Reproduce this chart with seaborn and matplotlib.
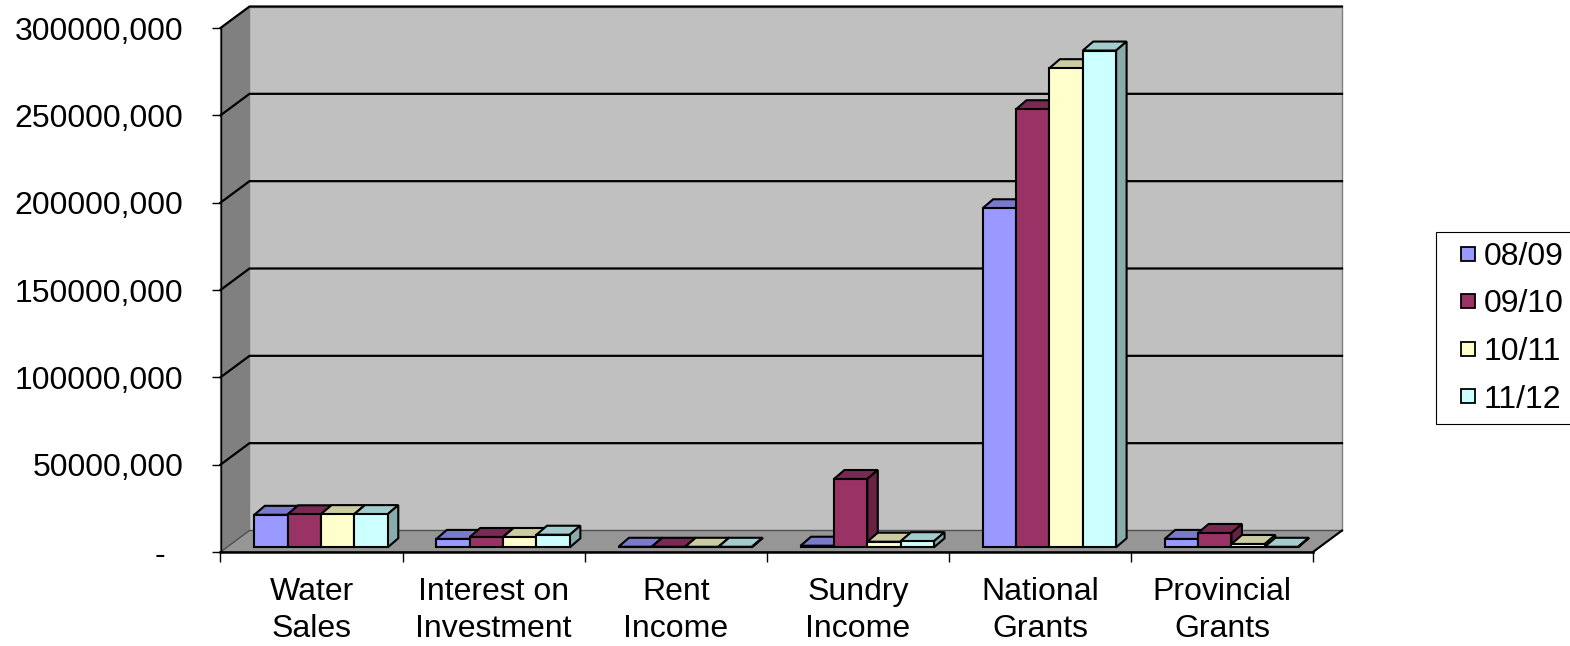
import matplotlib
matplotlib.use("Agg")
import numpy as np
import pandas as pd
import matplotlib.pyplot as plt
import seaborn as sns
from matplotlib.patches import Polygon, Rectangle
from matplotlib.lines import Line2D
from matplotlib.transforms import IdentityTransform, ScaledTranslation

# ---------------- data ----------------
categories = ["Water\nSales", "Interest on\nInvestment", "Rent\nIncome",
              "Sundry\nIncome", "National\nGrants", "Provincial\nGrants"]
years = ["08/09", "09/10", "10/11", "11/12"]
values_0809 = [18.6e6, 4.8e6, 0.3e6, 0.9e6, 194.1e6, 4.8e6]
values_0910 = [18.9e6, 5.9e6, 0.3e6, 39.1e6, 250.8e6, 8.2e6]
values_1011 = [19.0e6, 5.9e6, 0.3e6, 3.2e6, 274.3e6, 1.9e6]
values_1112 = [19.0e6, 7.2e6, 0.3e6, 3.5e6, 284.4e6, 0.3e6]
colors = ["#9999FF", "#993366", "#FFFFCC", "#CCFFFF"]
y_ticks = [0, 50e6, 100e6, 150e6, 200e6, 250e6, 300e6]
y_labels = ["-  ", "50000,000", "100000,000", "150000,000",
            "200000,000", "250000,000", "300000,000"]

df = pd.DataFrame({
    "category": categories * 4,
    "year": np.repeat(years, len(categories)),
    "value": values_0809 + values_0910 + values_1011 + values_1112,
})

plt.rcParams["font.family"] = ["Liberation Sans", "DejaVu Sans"]
FS = 23

W, H, DPI = 1570, 646, 100
fig = plt.figure(figsize=(W / DPI, H / DPI), dpi=DPI)
fig.patch.set_facecolor("white")

# front plane of the 3D box (pixel geometry)
X0, X1, YB, YT = 220.5, 1313.0, 552.0, 28.0
ax = fig.add_axes([X0 / W, (H - YB) / H, (X1 - X0) / W, (YB - YT) / H])
ax.patch.set_visible(False)

sns.barplot(data=df, x="category", y="value", hue="year", order=categories,
            hue_order=years, palette=colors, saturation=1, width=0.733,
            edgecolor="black", linewidth=1.5, legend=False, errorbar=None, ax=ax)
ax.set_xlim(-0.5, 5.5)
ax.set_ylim(0, 300e6)
ax.set_xlabel("")
ax.set_ylabel("")

bars = sorted([p for p in ax.patches if isinstance(p, Rectangle)], key=lambda p: p.get_x())

# depth vectors (pixels)
DX, DY = 29.0, 21.5          # full floor depth
SX, SY = 9.5, 4.7            # bar front face offset
BX, BY = 10.5, 9.0           # bar depth


def wall(x, y, d):
    p = ax.transData.transform((x, y))
    return (p[0] + d * DX, p[1] + d * DY)


def bp(x, y, d):
    p = ax.transData.transform((x, y))
    return (p[0] + SX + d * BX, p[1] + SY + d * BY)


xmin, xmax = -0.5, 5.5
ytop = 300e6
ident = IdentityTransform()

# left wall
ax.add_patch(Polygon([wall(xmin, 0, 0), wall(xmin, ytop, 0), wall(xmin, ytop, 1), wall(xmin, 0, 1)],
                     closed=True, transform=ident, facecolor="#808080", edgecolor="#6e6e6e",
                     lw=0.8, zorder=0.5, clip_on=False))
# back wall
ax.add_patch(Polygon([wall(xmin, 0, 1), wall(xmax, 0, 1), wall(xmax, ytop, 1), wall(xmin, ytop, 1)],
                     closed=True, transform=ident, facecolor="#C0C0C0", edgecolor="#808080",
                     lw=1.0, zorder=0.5, clip_on=False))
# floor
ax.add_patch(Polygon([wall(xmin, 0, 0), wall(xmax, 0, 0), wall(xmax, 0, 1), wall(xmin, 0, 1)],
                     closed=True, transform=ident, facecolor="#969696", edgecolor="#505050",
                     lw=1.0, zorder=0.7, clip_on=False))
# gridlines on walls
for t in y_ticks[1:]:
    pts = [wall(xmin, t, 0), wall(xmin, t, 1), wall(xmax, t, 1)]
    ax.add_line(Line2D([p[0] for p in pts], [p[1] for p in pts], transform=ident,
                       color="black", lw=1.6, zorder=0.8, clip_on=False))
# floor right edge
pr = [wall(xmax, 0, 0), wall(xmax, 0, 1)]
ax.add_line(Line2D([p[0] for p in pr], [p[1] for p in pr], transform=ident,
                   color="black", lw=1.5, zorder=0.9, clip_on=False))

# 3D bars
shift = ax.transData + ScaledTranslation(SX / DPI, SY / DPI, fig.dpi_scale_trans)
for k, bar in enumerate(bars):
    x, w, h = bar.get_x(), bar.get_width(), bar.get_height()
    fc = np.array(bar.get_facecolor()[:3])
    z = 3 + k * 0.01
    bar.set_transform(shift)
    bar.set_zorder(z + 0.005)
    bar.set_clip_on(False)
    bar.set_joinstyle("miter")
    top = [bp(x, h, 0), bp(x + w, h, 0), bp(x + w, h, 1), bp(x, h, 1)]
    side = [bp(x + w, 0, 0), bp(x + w, h, 0), bp(x + w, h, 1), bp(x + w, 0, 1)]
    ax.add_patch(Polygon(top, closed=True, transform=ident, facecolor=fc * 0.8,
                         edgecolor="black", lw=1.5, zorder=z, clip_on=False, joinstyle="miter"))
    ax.add_patch(Polygon(side, closed=True, transform=ident, facecolor=fc * 0.67,
                         edgecolor="black", lw=1.5, zorder=z, clip_on=False, joinstyle="miter"))

# spines & ticks
for s in ["top", "right"]:
    ax.spines[s].set_visible(False)
ax.spines["left"].set_color("black")
ax.spines["left"].set_linewidth(1.0)
ax.spines["left"].set_zorder(1)
ax.spines["bottom"].set_color("black")
ax.spines["bottom"].set_linewidth(1.8)
ax.spines["bottom"].set_zorder(1)

ax.set_yticks(y_ticks, labels=y_labels)
ax.tick_params(axis="y", which="major", direction="out", length=6.8, width=1.0,
               pad=20, labelsize=FS, colors="black", left=True)
ax.set_xticks(range(len(categories)), labels=categories)
ax.tick_params(axis="x", which="major", length=0, pad=18, labelsize=FS,
               colors="black", bottom=True)
ax.set_xticks(np.arange(-0.5, len(categories), 1.0), minor=True)
ax.tick_params(axis="x", which="minor", direction="out", length=7.2, width=1.0,
               color="black", bottom=True)
for lab in ax.get_xticklabels():
    lab.set_linespacing(1.3)

# legend
handles = [Line2D([], [], marker="s", linestyle="none", markersize=10,
                  markerfacecolor=c, markeredgecolor="black", markeredgewidth=1.3)
           for c in colors]
leg = fig.legend(handles, years, loc="upper left",
                 bbox_to_anchor=(1435.7 / W, 1 - 232.3 / H), bbox_transform=fig.transFigure,
                 fontsize=FS, frameon=True, fancybox=False, framealpha=1,
                 edgecolor="black", borderpad=0.3, borderaxespad=0,
                 handlelength=1.4, handletextpad=-0.2, labelspacing=0.55)
leg.get_frame().set_linewidth(0.8)

fig.savefig("out.png", dpi=DPI)
